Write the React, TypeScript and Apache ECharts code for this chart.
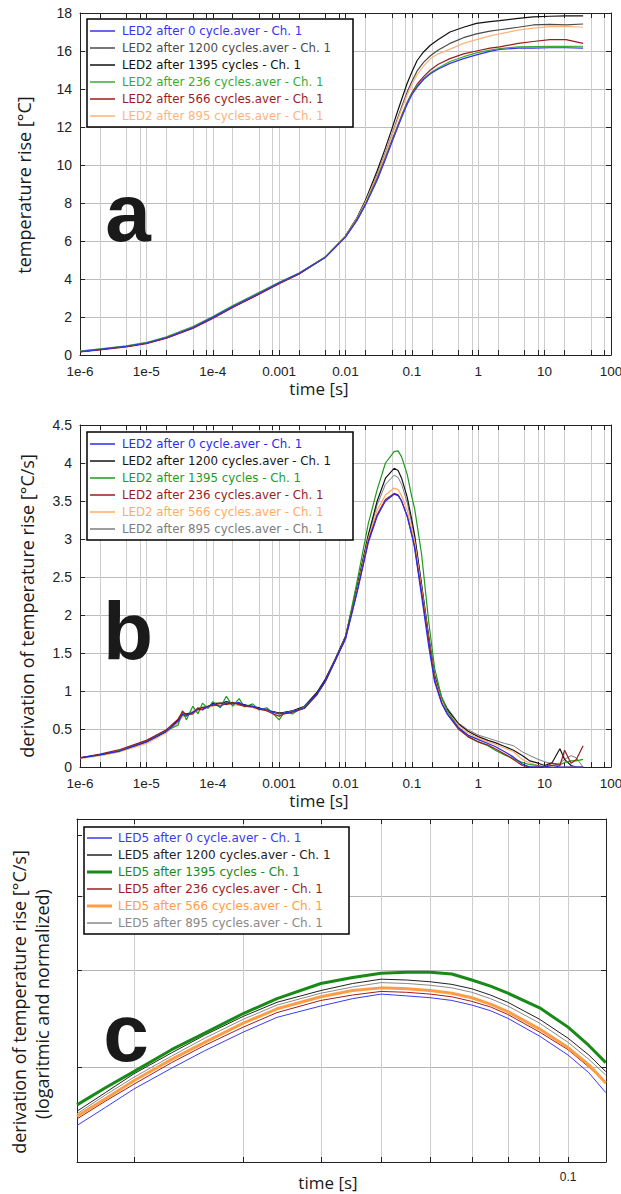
import React, { useEffect, useRef } from 'react';
import * as echarts from 'echarts';

// ---------- Panel a : temperature rise ----------
const tA = [1e-6, 2e-6, 5e-6, 1e-5, 2e-5, 5e-5, 1e-4, 2e-4, 5e-4, 1e-3, 2e-3, 5e-3, 0.01, 0.015, 0.02, 0.03, 0.04, 0.05, 0.06, 0.07, 0.085, 0.1, 0.12, 0.15, 0.19, 0.25, 0.375, 0.6, 0.94, 1.5, 2.1, 4, 6.7, 12, 21, 38];
const a0 = [0.18, 0.3, 0.46, 0.63, 0.92, 1.45, 1.98, 2.55, 3.25, 3.8, 4.3, 5.15, 6.2, 7.1, 7.9, 9.2, 10.3, 11.2, 11.9, 12.5, 13.2, 13.7, 14.1, 14.5, 14.8, 15.05, 15.35, 15.6, 15.8, 15.98, 16.08, 16.15, 16.15, 16.17, 16.17, 16.15];
const a1200 = [0.17, 0.29, 0.45, 0.62, 0.9, 1.43, 1.95, 2.53, 3.23, 3.78, 4.28, 5.16, 6.25, 7.2, 8.05, 9.5, 10.65, 11.6, 12.4, 13.05, 13.85, 14.4, 14.95, 15.4, 15.75, 16.05, 16.4, 16.7, 16.9, 17.05, 17.12, 17.25, 17.37, 17.4, 17.38, 17.42];
const a1395 = [0.17, 0.29, 0.45, 0.62, 0.9, 1.43, 1.95, 2.53, 3.23, 3.78, 4.28, 5.16, 6.27, 7.25, 8.15, 9.7, 10.9, 11.9, 12.75, 13.45, 14.3, 14.9, 15.5, 15.95, 16.3, 16.6, 17.0, 17.25, 17.45, 17.55, 17.6, 17.72, 17.8, 17.83, 17.85, 17.85];
const a236 = [0.2, 0.32, 0.48, 0.66, 0.96, 1.5, 2.02, 2.6, 3.3, 3.83, 4.32, 5.17, 6.22, 7.12, 7.93, 9.25, 10.35, 11.25, 11.95, 12.55, 13.25, 13.75, 14.15, 14.55, 14.85, 15.1, 15.45, 15.7, 15.9, 16.05, 16.13, 16.22, 16.23, 16.24, 16.24, 16.25];
const a566 = [0.16, 0.27, 0.43, 0.6, 0.88, 1.4, 1.92, 2.5, 3.2, 3.75, 4.27, 5.15, 6.22, 7.15, 7.95, 9.3, 10.4, 11.3, 12.0, 12.6, 13.3, 13.8, 14.25, 14.65, 15.0, 15.3, 15.6, 15.85, 16.0, 16.15, 16.22, 16.4, 16.5, 16.6, 16.6, 16.4];
const a895 = [0.2, 0.31, 0.47, 0.64, 0.93, 1.46, 1.98, 2.56, 3.26, 3.8, 4.3, 5.17, 6.25, 7.2, 8.05, 9.45, 10.6, 11.55, 12.3, 12.95, 13.7, 14.25, 14.75, 15.2, 15.6, 15.85, 16.1, 16.4, 16.6, 16.8, 16.9, 17.1, 17.2, 17.28, 17.3, 17.25];
const namesA = ['LED2 after 0 cycle.aver - Ch. 1', 'LED2 after 1200 cycles.aver - Ch. 1', 'LED2 after 1395 cycles - Ch. 1', 'LED2 after 236 cycles.aver - Ch. 1', 'LED2 after 566 cycles.aver - Ch. 1', 'LED2 after 895 cycles.aver - Ch. 1'];

// ---------- Panel b : derivation ----------
const tB = [1e-6, 2e-6, 4e-6, 1e-5, 2e-5, 3e-5, 3.5e-5, 4e-5, 5e-5, 6e-5, 7e-5, 8.5e-5, 1e-4, 1.3e-4, 1.6e-4, 2e-4, 2.5e-4, 3e-4, 4e-4, 5e-4, 6.5e-4, 8e-4, 1e-3, 1.2e-3, 1.6e-3, 2.4e-3, 3.7e-3, 5e-3, 7e-3, 0.01, 0.015, 0.022, 0.03, 0.04, 0.054, 0.062, 0.07, 0.085, 0.1, 0.11, 0.14, 0.18, 0.22, 0.28, 0.34, 0.5, 0.7, 1.0, 1.4, 1.8, 2.5, 3.4, 4.6, 6, 8, 10, 13, 17, 20, 25, 30, 38];
const b0 = [0.12, 0.16, 0.21, 0.33, 0.47, 0.6, 0.69, 0.67, 0.72, 0.76, 0.75, 0.8, 0.82, 0.8, 0.84, 0.83, 0.85, 0.81, 0.8, 0.77, 0.76, 0.72, 0.7, 0.71, 0.73, 0.78, 0.96, 1.14, 1.4, 1.68, 2.3, 2.95, 3.3, 3.5, 3.59, 3.57, 3.5, 3.3, 3.05, 2.88, 2.25, 1.58, 1.12, 0.84, 0.7, 0.52, 0.42, 0.36, 0.31, 0.27, 0.2, 0.13, 0.04, 0, 0, 0, 0.02, 0, 0, 0, 0, 0];
const b1200 = [0.12, 0.16, 0.21, 0.33, 0.46, 0.62, 0.7, 0.7, 0.71, 0.77, 0.78, 0.79, 0.84, 0.83, 0.86, 0.84, 0.83, 0.82, 0.79, 0.78, 0.74, 0.73, 0.71, 0.72, 0.74, 0.8, 0.98, 1.16, 1.42, 1.72, 2.38, 3.05, 3.5, 3.8, 3.93, 3.9, 3.8, 3.55, 3.25, 3.05, 2.4, 1.7, 1.2, 0.9, 0.76, 0.57, 0.47, 0.4, 0.35, 0.32, 0.27, 0.22, 0.15, 0.08, 0.05, 0.02, 0.06, 0.24, 0.1, 0.02, 0, 0];
const b1395 = [0.12, 0.16, 0.22, 0.34, 0.48, 0.55, 0.74, 0.62, 0.8, 0.7, 0.84, 0.77, 0.86, 0.78, 0.93, 0.8, 0.9, 0.79, 0.83, 0.75, 0.78, 0.71, 0.62, 0.72, 0.7, 0.8, 0.95, 1.13, 1.4, 1.7, 2.45, 3.2, 3.65, 4.0, 4.15, 4.16, 4.08, 3.85, 3.55, 3.4, 2.8, 1.9, 1.3, 0.92, 0.74, 0.52, 0.4, 0.33, 0.28, 0.22, 0.16, 0.11, 0.06, 0.03, 0.02, 0, 0.02, 0.03, 0.06, 0.08, 0.08, 0.1];
const b236 = [0.12, 0.17, 0.23, 0.35, 0.49, 0.63, 0.73, 0.69, 0.7, 0.78, 0.76, 0.8, 0.81, 0.84, 0.82, 0.85, 0.82, 0.8, 0.79, 0.76, 0.74, 0.7, 0.67, 0.7, 0.72, 0.77, 0.95, 1.13, 1.4, 1.7, 2.32, 2.97, 3.32, 3.52, 3.6, 3.58, 3.5, 3.3, 3.05, 2.9, 2.3, 1.65, 1.15, 0.85, 0.7, 0.5, 0.4, 0.33, 0.29, 0.24, 0.17, 0.1, 0.02, 0, 0, 0, 0.05, 0.02, 0.22, 0.05, 0.1, 0.28];
const b566 = [0.11, 0.15, 0.2, 0.31, 0.45, 0.58, 0.66, 0.68, 0.7, 0.74, 0.77, 0.78, 0.8, 0.82, 0.83, 0.82, 0.81, 0.8, 0.78, 0.76, 0.74, 0.72, 0.7, 0.71, 0.73, 0.78, 0.95, 1.13, 1.4, 1.7, 2.34, 3.0, 3.38, 3.58, 3.67, 3.65, 3.57, 3.38, 3.12, 2.97, 2.35, 1.66, 1.17, 0.88, 0.73, 0.55, 0.45, 0.38, 0.33, 0.3, 0.25, 0.2, 0.1, 0.05, 0.02, 0, 0, 0, 0, 0, 0, 0];
const b895 = [0.12, 0.16, 0.21, 0.33, 0.47, 0.61, 0.68, 0.7, 0.73, 0.75, 0.79, 0.8, 0.83, 0.85, 0.83, 0.84, 0.83, 0.81, 0.8, 0.77, 0.75, 0.73, 0.71, 0.72, 0.74, 0.79, 0.97, 1.15, 1.42, 1.72, 2.37, 3.03, 3.45, 3.72, 3.84, 3.81, 3.72, 3.48, 3.2, 3.02, 2.4, 1.72, 1.22, 0.93, 0.78, 0.58, 0.49, 0.42, 0.38, 0.35, 0.31, 0.28, 0.2, 0.15, 0.1, 0.07, 0.04, 0.05, 0.1, 0.15, 0.12, 0];
const namesB = ['LED2 after 0 cycle.aver - Ch. 1', 'LED2 after 1200 cycles.aver - Ch. 1', 'LED2 after 1395 cycles - Ch. 1', 'LED2 after 236 cycles.aver - Ch. 1', 'LED2 after 566 cycles.aver - Ch. 1', 'LED2 after 895 cycles.aver - Ch. 1'];

// ---------- Panel c : derivation, logarithmic and normalized ----------
const tC = [0.0162, 0.018, 0.02, 0.023, 0.026, 0.03, 0.034, 0.04, 0.045, 0.05, 0.055, 0.06, 0.065, 0.07, 0.075, 0.08, 0.09, 0.1, 0.108, 0.115];
const c0 = [2.52, 2.66, 2.81, 2.99, 3.15, 3.33, 3.48, 3.6, 3.68, 3.73, 3.71, 3.69, 3.66, 3.61, 3.55, 3.47, 3.29, 3.11, 2.95, 2.78];
const c1200 = [2.63, 2.78, 2.94, 3.13, 3.3, 3.49, 3.64, 3.77, 3.85, 3.9, 3.89, 3.87, 3.84, 3.79, 3.72, 3.64, 3.46, 3.27, 3.11, 2.96];
const c1395 = [2.68, 2.82, 2.96, 3.16, 3.32, 3.52, 3.68, 3.85, 3.92, 3.97, 3.98, 3.98, 3.96, 3.89, 3.82, 3.74, 3.58, 3.38, 3.2, 3.04];
const c236 = [2.57, 2.71, 2.85, 3.04, 3.2, 3.38, 3.53, 3.66, 3.72, 3.76, 3.75, 3.73, 3.7, 3.65, 3.59, 3.51, 3.33, 3.16, 3.0, 2.86];
const c566 = [2.59, 2.73, 2.88, 3.07, 3.23, 3.42, 3.57, 3.7, 3.77, 3.8, 3.79, 3.77, 3.74, 3.69, 3.62, 3.54, 3.36, 3.18, 3.02, 2.86];
const c895 = [2.61, 2.76, 2.91, 3.1, 3.27, 3.46, 3.61, 3.74, 3.81, 3.86, 3.85, 3.83, 3.8, 3.75, 3.68, 3.6, 3.42, 3.23, 3.07, 2.93];
const namesC = ['LED5 after 0 cycle.aver - Ch. 1', 'LED5 after 1200 cycles.aver - Ch. 1', 'LED5 after 1395 cycles - Ch. 1', 'LED5 after 236 cycles.aver - Ch. 1', 'LED5 after 566 cycles.aver - Ch. 1', 'LED5 after 895 cycles.aver - Ch. 1'];

// ---------- ticks / labels ----------
const xTicksAB = [1e-6, 2e-6, 5e-6, 8e-6, 1e-5, 2e-5, 5e-5, 8e-5, 1e-4, 2e-4, 5e-4, 8e-4, 1e-3, 2e-3, 5e-3, 8e-3, 0.01, 0.02, 0.05, 0.08, 0.1, 0.2, 0.5, 0.8, 1, 2, 5, 8, 10, 20, 50, 80, 100];
const xLabelValsAB = [1e-6, 1e-5, 1e-4, 0.001, 0.01, 0.1, 1, 10, 100];
const xLabelTextsAB = ['1e-6', '1e-5', '1e-4', '0.001', '0.01', '0.1', '1', '10', '100'];
const xTicksC = [0.02, 0.03, 0.04, 0.05, 0.06, 0.07, 0.08, 0.09, 0.1];
const xLabelValsC = [0.1];
const xLabelTextsC = ['0.1'];
const yTicksC = [3, 4, 5, 6];
const yGridC = [3, 4, 5];

const FT = '"Liberation Sans", Arial, sans-serif';
const FL = '"DejaVu Sans", Verdana, sans-serif';
const FN = '"Open Sans", "Noto Sans", sans-serif';
const AX = '#222222';

function fmt(vals: number[], texts: string[]) {
  return (v: number) => {
    for (let i = 0; i < vals.length; i++) {
      if (Math.abs(Math.log10(v) - Math.log10(vals[i])) < 1e-6) return texts[i];
    }
    return '';
  };
}

function xPair(gi: number, min: number, max: number, ticks: number[], lv: number[], lt: string[], fs: number) {
  const line = { show: true, onZero: false, lineStyle: { color: AX, width: 1 } };
  return [
    {
      type: 'log', logBase: 10, gridIndex: gi, min, max, position: 'bottom',
      axisLine: line,
      axisTick: { show: true, inside: true, length: 5, customValues: ticks, lineStyle: { color: AX } },
      axisLabel: { show: true, customValues: lv, formatter: fmt(lv, lt), color: AX, fontSize: fs, fontFamily: FT, margin: 9, showMinLabel: true, showMaxLabel: true, hideOverlap: false },
      splitLine: { show: true, lineStyle: { color: '#cdcdcd', width: 1 } },
      minorTick: { show: false }, minorSplitLine: { show: false },
    },
    {
      type: 'log', logBase: 10, gridIndex: gi, min, max, position: 'top',
      axisLine: line,
      axisTick: { show: true, inside: true, length: 5, customValues: ticks, lineStyle: { color: AX } },
      axisLabel: { show: false },
      splitLine: { show: false },
    },
  ];
}

function yPairValue(gi: number, max: number, interval: number) {
  const line = { show: true, onZero: false, lineStyle: { color: AX, width: 1 } };
  return [
    {
      type: 'value', gridIndex: gi, min: 0, max, interval, position: 'left',
      axisLine: line,
      axisTick: { show: true, inside: true, length: 5, lineStyle: { color: AX } },
      axisLabel: { color: AX, fontSize: 14, fontFamily: FT, margin: 8, showMinLabel: true, showMaxLabel: true },
      splitLine: { show: true, lineStyle: { color: '#bdbdbd', width: 1 } },
    },
    {
      type: 'value', gridIndex: gi, min: 0, max, interval, position: 'right',
      axisLine: line,
      axisTick: { show: true, inside: true, length: 5, lineStyle: { color: AX } },
      axisLabel: { show: false },
      splitLine: { show: false },
    },
  ];
}

function ser(name: string, ts: number[], vs: number[], color: string, width: number, ax: number) {
  return {
    name, type: 'line', xAxisIndex: ax, yAxisIndex: ax,
    data: ts.map((t, i) => [t, vs[i]]),
    showSymbol: false, symbol: 'none', silent: true,
    lineStyle: { color, width }, itemStyle: { color },
    emphasis: { disabled: true },
  };
}

function legend(x: number, y: number, w: number, h: number, row0: number, gap: number, lx1: number, lx2: number, tx: number, labels: string[], colors: string[], widths: number[], fs: number) {
  const els: any[] = [
    { type: 'rect', shape: { x, y, width: w, height: h }, style: { fill: '#ffffff', stroke: '#000000', lineWidth: 1.5 }, z: 20 },
  ];
  labels.forEach((lab, i) => {
    const yy = row0 + i * gap;
    els.push({ type: 'line', shape: { x1: lx1, y1: yy, x2: lx2, y2: yy }, style: { stroke: colors[i], lineWidth: widths[i] }, z: 21 });
    els.push({ type: 'text', x: tx, y: yy, style: { text: lab, fill: colors[i], font: `${fs}px ${FL}`, align: 'left', verticalAlign: 'middle' }, z: 21 });
  });
  return els;
}

function txt(text: string, x: number, y: number, fs: number, rot = 0, weight = 'normal', family = FN) {
  return { type: 'text', x, y, rotation: rot, style: { text, fill: '#1a1a1a', font: `${weight} ${fs}px ${family}`, align: 'center', verticalAlign: 'middle' }, z: 22 };
}

export default function App() {
  const ref = useRef<HTMLDivElement>(null);
  useEffect(() => {
    if (!ref.current) return;
    const chart = echarts.init(ref.current, null, { renderer: 'svg', width: 621, height: 1194 });

    const colA = ['#3434f0', '#4a4a4a', '#111111', '#3aaa35', '#9b1c1c', '#ffb37a'];
    const colB = ['#2a2af0', '#151515', '#1f9a1f', '#9b1c1c', '#ffab66', '#7c7c7c'];
    const colC = ['#3a3af5', '#222222', '#178a17', '#a01c1c', '#ff9d45', '#8a8a8a'];
    const widC = [1, 1, 3, 1, 3, 1];

    const option: any = {
      animation: false,
      backgroundColor: '#ffffff',
      grid: [
        { left: 80, top: 13, width: 531, height: 342, outerBoundsMode: 'none', containLabel: false },
        { left: 80, top: 425, width: 531, height: 342, outerBoundsMode: 'none', containLabel: false },
        { left: 77, top: 819, width: 529, height: 343, outerBoundsMode: 'none', containLabel: false },
      ],
      xAxis: [
        ...xPair(0, 1e-6, 100, xTicksAB, xLabelValsAB, xLabelTextsAB, 13.5),
        ...xPair(1, 1e-6, 100, xTicksAB, xLabelValsAB, xLabelTextsAB, 13.5),
        ...xPair(2, 0.0162, 0.1151, xTicksC, xLabelValsC, xLabelTextsC, 12),
      ],
      yAxis: [
        ...yPairValue(0, 18, 2),
        ...yPairValue(1, 4.5, 0.5),
        {
          type: 'log', logBase: 10, gridIndex: 2, min: 2.26, max: 6.29, position: 'left',
          axisLine: { show: true, onZero: false, lineStyle: { color: AX, width: 1 } },
          axisTick: { show: true, inside: true, length: 5, customValues: yTicksC, lineStyle: { color: AX } },
          axisLabel: { show: false },
          splitLine: { show: false },
        },
        {
          type: 'log', logBase: 10, gridIndex: 2, min: 2.26, max: 6.29, position: 'right',
          axisLine: { show: true, onZero: false, lineStyle: { color: AX, width: 1 } },
          axisTick: { show: true, inside: true, length: 5, customValues: yGridC, lineStyle: { color: AX } },
          axisLabel: { show: false },
          splitLine: { show: true, lineStyle: { color: '#b5b5b5', width: 1 } },
        },
      ],
      series: [
        ser(namesA[2], tA, a1395, colA[2], 1.2, 0),
        ser(namesA[1], tA, a1200, colA[1], 1.2, 0),
        ser(namesA[5], tA, a895, colA[5], 1.2, 0),
        ser(namesA[4], tA, a566, colA[4], 1.2, 0),
        ser(namesA[3], tA, a236, colA[3], 1.2, 0),
        ser(namesA[0], tA, a0, colA[0], 1.2, 0),

        ser(namesB[5], tB, b895, colB[5], 1, 2),
        ser(namesB[1], tB, b1200, colB[1], 1.2, 2),
        ser(namesB[4], tB, b566, colB[4], 1.2, 2),
        ser(namesB[2], tB, b1395, colB[2], 1.2, 2),
        ser(namesB[3], tB, b236, colB[3], 1.2, 2),
        ser(namesB[0], tB, b0, colB[0], 1.2, 2),

        ser(namesC[5], tC, c895, colC[5], widC[5], 4),
        ser(namesC[1], tC, c1200, colC[1], widC[1], 4),
        ser(namesC[3], tC, c236, colC[3], widC[3], 4),
        ser(namesC[4], tC, c566, colC[4], widC[4], 4),
        ser(namesC[0], tC, c0, colC[0], widC[0], 4),
        ser(namesC[2], tC, c1395, colC[2], widC[2], 4),
      ],
      graphic: [
        ...legend(87, 19, 266, 108, 31, 17, 90, 115, 122, namesA, colA, [1.5, 1.5, 1.5, 1.5, 1.5, 1.5], 11.8),
        ...legend(87, 432, 266, 108, 444, 17, 90, 115, 122, namesB, colB, [1.5, 1.5, 1.5, 1.5, 1.5, 1.5], 11.8),
        ...legend(84, 827, 265, 107, 838, 17, 87, 112, 118, namesC, colC, [1.5, 1.5, 3, 1.5, 3, 1.5], 12),
        txt('a', 128, 212, 82, 0, 'bold', FT),
        txt('b', 128, 630, 82, 0, 'bold', FT),
        txt('c', 126, 1032, 82, 0, 'bold', FT),
        txt('time [s]', 319, 388, 17),
        txt('time [s]', 319, 800, 17),
        txt('time [s]', 328, 1182, 17),
        txt('temperature rise [°C]', 24, 185, 18, Math.PI / 2),
        txt('derivation of temperature rise [°C/s]', 27, 606, 18, Math.PI / 2),
        txt('derivation of temperature rise [°C/s]', 19, 1002, 18, Math.PI / 2),
        txt('(logaritmic and normalized)', 42, 1004, 18, Math.PI / 2),
      ],
    };
    chart.setOption(option);
    return () => chart.dispose();
  }, []);
  return <div ref={ref} style={{ position: 'absolute', left: 0, top: 0, width: 621, height: 1194 }} />;
}
